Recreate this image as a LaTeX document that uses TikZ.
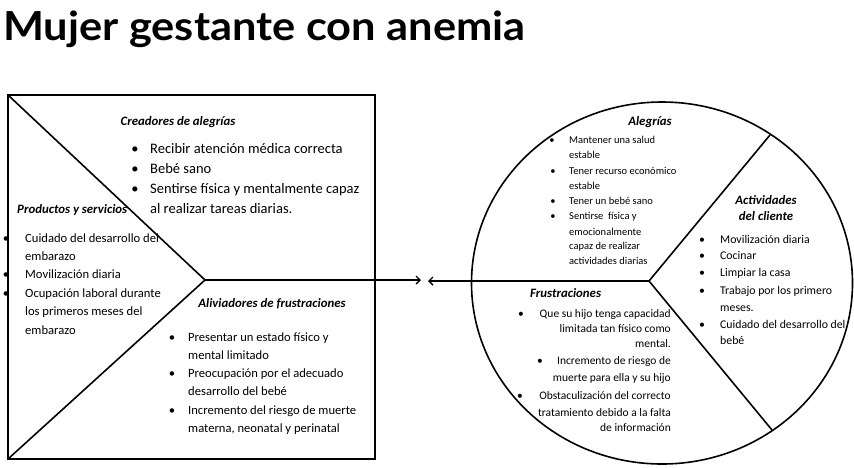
\documentclass[tikz,border=0pt]{standalone}
\usepackage{fontspec}
\setmainfont{Carlito}
\newfontfamily\titlefont[FakeStretch=1.085]{Lato}
\usetikzlibrary{arrows.meta}
\tikzset{
  frame/.style={line width=1.6pt, line join=miter},
  conn/.style={line width=1.6pt, -{Straight Barb[length=4pt,width=8pt,line width=1.4pt]}},
  txA/.style={inner sep=0pt, font=\fontsize{14.5}{16}\selectfont},
  txB/.style={inner sep=0pt, font=\fontsize{12.6}{15}\selectfont},
  txC/.style={inner sep=0pt, font=\fontsize{10.5}{12}\selectfont},
  txD/.style={inner sep=0pt, font=\fontsize{11.8}{14}\selectfont},
  txE/.style={inner sep=0pt, font=\fontsize{11.5}{14}\selectfont},
  head/.style={inner sep=0pt, font=\fontsize{12.8}{14}\selectfont\bfseries\itshape},
  lw/.style={anchor=base west},
  le/.style={anchor=base east},
  bl/.style={anchor=base}
}
\begin{document}
\begin{tikzpicture}[x=1pt,y=-1pt]
\useasboundingbox (0,0) rectangle (854,467);
% title
\node[inner sep=0pt, anchor=base west, font=\titlefont\bfseries\fontsize{40}{42}\selectfont] (title) at (3,40) {Mujer gestante con anemia};
% left box
\coordinate (tl) at (8,95);
\coordinate (tr) at (375,95);
\coordinate (br) at (375,459);
\coordinate (bo) at (8,459);
\coordinate (tip) at (205,280);
\draw[frame] (tl) -- (tr) -- (br) -- (bo) -- cycle;
\draw[frame] (tl) -- (tip) -- (bo);
% circle
\coordinate (cen) at (662,283);
\draw[frame] (cen) ellipse [x radius=190.5, y radius=181];
\coordinate (cc) at (649,281);
\coordinate (cu) at (770,135);
\coordinate (cd) at (772,430);
\draw[frame] (cu) -- (cc) -- (cd);
% arrows
\coordinate (a1) at (421,280);
\coordinate (a2) at (428,281);
\draw[conn] (tip) -- (a1);
\draw[conn] (cc) -- (a2);
% Creadores de alegrias
\node[head,bl] (hcr) at (178,125) {Creadores de alegrías};
\node[txA,bl] (bc1) at (135,153) {\textbullet};
\node[txA,bl] (bc2) at (135,173) {\textbullet};
\node[txA,bl] (bc3) at (135,193) {\textbullet};
\node[txA,lw] (c1) at (150,153) {Recibir atención médica correcta};
\node[txA,lw] (c2) at (150,173) {Bebé sano};
\node[txA,lw] (c3) at (150,193) {Sentirse física y mentalmente capaz};
\node[txA,lw] (c4) at (150,213) {al realizar tareas diarias.};
% Productos y servicios
\node[head,lw] (hps) at (17,213) {Productos y servicios};
\node[txB,bl] (bp1) at (6,242) {\textbullet};
\node[txB,bl] (bp2) at (6,278.5) {\textbullet};
\node[txB,bl] (bp3) at (6,297) {\textbullet};
\node[txB,lw] (p1) at (25,242) {Cuidado del desarrollo del};
\node[txB,lw] (p2) at (25,260.3) {embarazo};
\node[txB,lw] (p3) at (25,278.5) {Movilización diaria};
\node[txB,lw] (p4) at (25,297) {Ocupación laboral durante};
\node[txB,lw] (p5) at (25,315.5) {los primeros meses del};
\node[txB,lw] (p6) at (25,334) {embarazo};
% Aliviadores
\node[head,bl] (hal) at (272,307) {Aliviadores de frustraciones};
\node[txB,bl] (ba1) at (172,341) {\textbullet};
\node[txB,bl] (ba2) at (172,377.5) {\textbullet};
\node[txB,bl] (ba3) at (172,414) {\textbullet};
\node[txB,lw] (l1) at (188,341) {Presentar un estado físico y};
\node[txB,lw] (l2) at (188,359.3) {mental limitado};
\node[txB,lw] (l3) at (188,377.5) {Preocupación por el adecuado};
\node[txB,lw] (l4) at (188,395.8) {desarrollo del bebé};
\node[txB,lw] (l5) at (188,414) {Incremento del riesgo de muerte};
\node[txB,lw] (l6) at (188,432.3) {materna, neonatal y perinatal};
% Alegrias
\node[head,bl] (hag) at (650,125) {Alegrías};
\node[txC,bl] (bg1) at (552,143) {\textbullet};
\node[txC,bl] (bg2) at (553,174) {\textbullet};
\node[txC,bl] (bg3) at (553,204) {\textbullet};
\node[txC,bl] (bg4) at (553,219) {\textbullet};
\node[txC,lw] (g1) at (569,143) {Mantener una salud};
\node[txC,lw] (g2) at (569,158) {estable};
\node[txC,lw] (g3) at (569,174) {Tener recurso económico};
\node[txC,lw] (g4) at (569,189) {estable};
\node[txC,lw] (g5) at (569,204) {Tener un bebé sano};
\node[txC,lw] (g6) at (569,219) {Sentirse\ \ física y};
\node[txC,lw] (g7) at (569,235) {emocionalmente};
\node[txC,lw] (g8) at (569,249.5) {capaz de realizar};
\node[txC,lw] (g9) at (569,264) {actividades diarias};
% Actividades del cliente
\node[head,bl] (hac1) at (766,204) {Actividades};
\node[head,bl] (hac2) at (766,220) {del cliente};
\node[txD,bl] (bt1) at (702,243) {\textbullet};
\node[txD,bl] (bt2) at (702,259) {\textbullet};
\node[txD,bl] (bt3) at (702,276) {\textbullet};
\node[txD,bl] (bt4) at (702,294) {\textbullet};
\node[txD,bl] (bt5) at (702,328) {\textbullet};
\node[txD,lw] (t1) at (720,243) {Movilización diaria};
\node[txD,lw] (t2) at (720,259) {Cocinar};
\node[txD,lw] (t3) at (720,276) {Limpiar la casa};
\node[txD,lw] (t4) at (720,294) {Trabajo por los primero};
\node[txD,lw] (t5) at (720,311) {meses.};
\node[txD,lw] (t6) at (720,328) {Cuidado del desarrollo del};
\node[txD,lw] (t7) at (720,344) {bebé};
% Frustraciones
\node[head,lw] (hfr) at (530,297) {Frustraciones};
\node[txE,bl] (bf1) at (521,317) {\textbullet};
\node[txE,bl] (bf2) at (540,364) {\textbullet};
\node[txE,bl] (bf3) at (520,399) {\textbullet};
\node[txE,le] (f1) at (671,317) {Que su hijo tenga capacidad};
\node[txE,le] (f2) at (671,332) {limitada tan físico como};
\node[txE,le] (f3) at (671,347.5) {mental.};
\node[txE,le] (f4) at (671,364) {Incremento de riesgo de};
\node[txE,le] (f5) at (671,381) {muerte para ella y su hijo};
\node[txE,le] (f6) at (671,399) {Obstaculización del correcto};
\node[txE,le] (f7) at (671,416) {tratamiento debido a la falta};
\node[txE,le] (f8) at (671,431) {de información};
\end{tikzpicture}
\end{document}
